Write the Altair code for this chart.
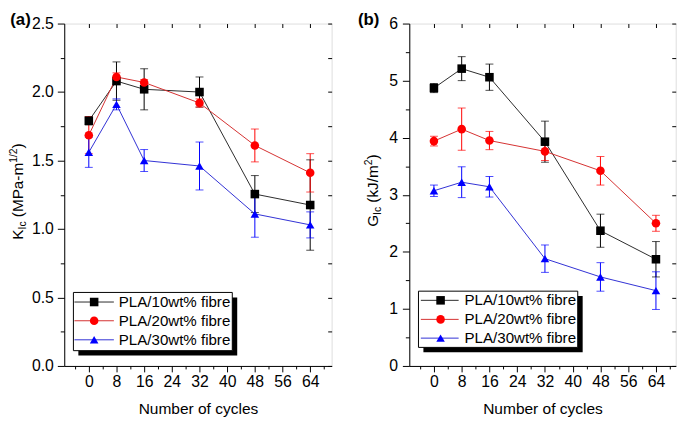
import altair as alt
import pandas as pd

FONT = "Liberation Sans"

cycles = [0, 8, 16, 32, 48, 64]
series = ["PLA/10wt% fibre", "PLA/20wt% fibre", "PLA/30wt% fibre"]
marker_colors = ["#000000", "#ff0000", "#0000ff"]
line_colors = ["#2b2b2b", "#d43030", "#3030d4"]
shapes = ["square", "circle", "triangle-up"]

# (a) fracture toughness K_Ic (MPa-m^1/2)
k_vals = [
    [1.79, 2.08, 2.02, 2.00, 1.255, 1.175],
    [1.685, 2.11, 2.07, 1.92, 1.61, 1.41],
    [1.56, 1.91, 1.50, 1.46, 1.11, 1.03],
]
k_errs = [
    [0.03, 0.14, 0.15, 0.11, 0.135, 0.33],
    [0.135, 0.03, 0.02, 0.03, 0.12, 0.14],
    [0.11, 0.04, 0.08, 0.175, 0.17, 0.095],
]

# (b) fracture energy G_Ic (kJ/m^2)
g_vals = [
    [4.87, 5.21, 5.06, 3.93, 2.37, 1.87],
    [3.94, 4.15, 3.95, 3.76, 3.42, 2.50],
    [3.07, 3.22, 3.14, 1.88, 1.56, 1.32],
]
g_errs = [
    [0.08, 0.21, 0.23, 0.36, 0.29, 0.31],
    [0.085, 0.37, 0.16, 0.16, 0.25, 0.14],
    [0.10, 0.27, 0.18, 0.24, 0.25, 0.33],
]

x_major = [0, 8, 16, 24, 32, 40, 48, 56, 64]
x_minor = [-4, 4, 12, 20, 28, 36, 44, 52, 60, 68]

k_major = [0.0, 0.5, 1.0, 1.5, 2.0, 2.5]
k_minor = [0.25, 0.75, 1.25, 1.75, 2.25]
k_right = [0.25 * i for i in range(11)]

g_major = [0, 1, 2, 3, 4, 5, 6]
g_minor = [0.5, 1.5, 2.5, 3.5, 4.5, 5.5]
g_right = [round(0.6 * i, 2) for i in range(11)]

# Arial-like advance widths (em) for composing the rich-text axis titles
ADV = {"K": .667, "G": .778, "I": .278, "c": .5, " ": .278, "(": .333, ")": .333,
       "M": .833, "P": .667, "a": .556, "-": .333, "m": .833, "k": .5, "J": .5,
       "/": .278, "1": .556, "2": .556}


def text_width(s, size):
    return sum(ADV.get(ch, .55) for ch in s) * size


def make_df(vals, errs):
    rows = []
    for s, v, e in zip(series, vals, errs):
        for c, vi, ei in zip(cycles, v, e):
            rows.append({"cycles": c, "series": s, "value": vi,
                         "lo": vi - ei, "hi": vi + ei})
    return pd.DataFrame(rows)


ONE = alt.Data(values=[{"k": 0}])
MS = 75  # marker area


def panel(vals, errs, xdom, ydom, width, height, ymaj, ymin, yright, yfmt,
          title_pieces, title_x, title_y0, tag, tag_x, ylab_pad, leg):
    df = make_df(vals, errs)
    xs = alt.Scale(domain=xdom, nice=False, zero=False)
    ys = alt.Scale(domain=ydom, nice=False, zero=False)
    common = dict(grid=False, domainColor="black", tickColor="black",
                  tickWidth=1, domainWidth=1)
    ax_bottom = alt.Axis(orient="bottom", values=x_major, tickSize=6,
                         labelFontSize=16, labelFont=FONT, labelColor="black",
                         labelPadding=2, labelFlush=False, labelOverlap=False,
                         title="Number of cycles", titleFont=FONT,
                         titleFontSize=15.7, titleFontWeight="normal",
                         titleColor="black", titlePadding=12, **common)
    ax_bottom_minor = alt.Axis(orient="bottom", values=x_minor, tickSize=3,
                               labels=False, domain=False, title=None,
                               grid=False, tickColor="black")
    ax_top = alt.Axis(orient="top", values=x_major, tickSize=4, offset=-4,
                      labels=False, domain=False, title=None, grid=False,
                      tickColor="black")
    ax_left = alt.Axis(orient="left", values=ymaj, format=yfmt, tickSize=7,
                       labelFontSize=16, labelFont=FONT, labelColor="black",
                       labelPadding=ylab_pad, labelFlush=False,
                       labelOverlap=False, title=None, **common)
    ax_left_minor = alt.Axis(orient="left", values=ymin, tickSize=4,
                             labels=False, domain=False, title=None,
                             grid=False, tickColor="black")
    ax_right = alt.Axis(orient="right", values=yright, tickSize=4, offset=-4,
                        labels=False, domain=False, title=None, grid=False,
                        tickColor="black")

    color = alt.Color("series:N", scale=alt.Scale(domain=series, range=marker_colors),
                      legend=None)
    base = alt.Chart(df)

    rules = base.mark_rule(strokeWidth=1).encode(
        x=alt.X("cycles:Q", scale=xs, axis=ax_bottom),
        y=alt.Y("lo:Q", scale=ys, axis=ax_left),
        y2="hi:Q", color=color)
    cap_hi = base.mark_tick(orient="horizontal", size=8, thickness=1).encode(
        x=alt.X("cycles:Q", scale=xs, axis=ax_bottom_minor),
        y=alt.Y("hi:Q", scale=ys, axis=ax_left_minor), color=color)
    cap_lo = base.mark_tick(orient="horizontal", size=8, thickness=1).encode(
        x=alt.X("cycles:Q", scale=xs, axis=ax_top),
        y=alt.Y("lo:Q", scale=ys, axis=ax_right), color=color)
    lines = base.mark_line(strokeWidth=1).encode(
        x=alt.X("cycles:Q", scale=xs, axis=None),
        y=alt.Y("value:Q", scale=ys, axis=None),
        stroke=alt.Stroke("series:N", scale=alt.Scale(domain=series, range=line_colors),
                          legend=None))
    points = base.mark_point(filled=True, size=MS, opacity=1).encode(
        x=alt.X("cycles:Q", scale=xs, axis=None),
        y=alt.Y("value:Q", scale=ys, axis=None),
        color=color,
        shape=alt.Shape("series:N", scale=alt.Scale(domain=series, range=shapes),
                        legend=None))

    layers = [rules, cap_hi, cap_lo, lines, points]

    # rich-text y title (rotated), built from pieces: (text, size, shift, gap_before)
    ypos = title_y0
    for txt, size, shift, gap in title_pieces:
        ypos -= gap
        layers.append(alt.Chart(ONE).mark_text(
            text=txt, angle=270, align="left", baseline="alphabetic",
            fontSize=size, font=FONT, color="black").encode(
            x=alt.value(title_x + shift), y=alt.value(ypos)))
        ypos -= text_width(txt, size)

    # panel tag
    layers.append(alt.Chart(ONE).mark_text(
        text=tag, align="left", baseline="top", fontSize=17, fontWeight="bold",
        font=FONT, color="black").encode(x=alt.value(tag_x), y=alt.value(-11.5)))

    # legend with drop shadow
    bx0, bx1, by0, by1 = leg["box"]
    layers.append(alt.Chart(ONE).mark_rect(fill="black").encode(
        x=alt.value(bx0 + 5), x2=alt.value(bx1 + 5),
        y=alt.value(by0 + 5), y2=alt.value(by1 + 5)))
    layers.append(alt.Chart(ONE).mark_rect(fill="white", stroke="black", strokeWidth=1).encode(
        x=alt.value(bx0), x2=alt.value(bx1), y=alt.value(by0), y2=alt.value(by1)))
    for i, s in enumerate(series):
        ry = leg["rows"][i]
        layers.append(alt.Chart(ONE).mark_rule(color=line_colors[i], strokeWidth=1).encode(
            x=alt.value(leg["line"][0]), x2=alt.value(leg["line"][1]), y=alt.value(ry)))
        layers.append(alt.Chart(ONE).mark_point(
            shape=shapes[i], filled=True, size=MS, color=marker_colors[i], opacity=1).encode(
            x=alt.value(leg["marker"]), y=alt.value(ry)))
        layers.append(alt.Chart(ONE).mark_text(
            text=s, align="left", baseline="middle", fontSize=15.3, font=FONT,
            color="black").encode(x=alt.value(leg["text"]), y=alt.value(ry)))

    return alt.layer(*layers).resolve_axis(x="independent", y="independent").properties(
        width=width, height=height)


pa = panel(k_vals, k_errs, [-7.1, 70.2], [0, 2.5], 271, 347, k_major, k_minor, k_right,
           ".1f",
           [("K", 15.5, 0, 0), ("Ic", 10.5, 3, 0), ("(MPa-m", 15.5, 0, 4.3),
            ("1/2", 10.5, -6, 0), (")", 15.5, 0, 0)],
           -42, 219, "(a)", -54.7, 4,
           {"box": (9.3, 170.3, 272.5, 331.5), "rows": [282.2, 301.2, 320.5],
            "line": (10.3, 50.3), "marker": 30.3, "text": 55.3})

pb = panel(g_vals, g_errs, [-7.1, 69.7], [0, 6], 270, 347, g_major, g_minor, g_right,
           "d",
           [("G", 15.5, 0, 0), ("Ic", 10.5, 3, 0), ("(kJ/m", 15.5, 0, 4.3),
            ("2", 10.5, -6, 0), (")", 15.5, 0, 0)],
           -32, 206, "(b)", -52, 5,
           {"box": (9.3, 170.7, 271.2, 328.2), "rows": [280.5, 299.8, 318.8],
            "line": (11.7, 50), "marker": 31.7, "text": 56})

chart = alt.hconcat(pa, pb, spacing=24.7).configure_view(
    stroke="black", strokeWidth=1).properties(padding=0).configure(font=FONT)

chart.save("out.html", embed_options={"renderer": "svg", "actions": False})
